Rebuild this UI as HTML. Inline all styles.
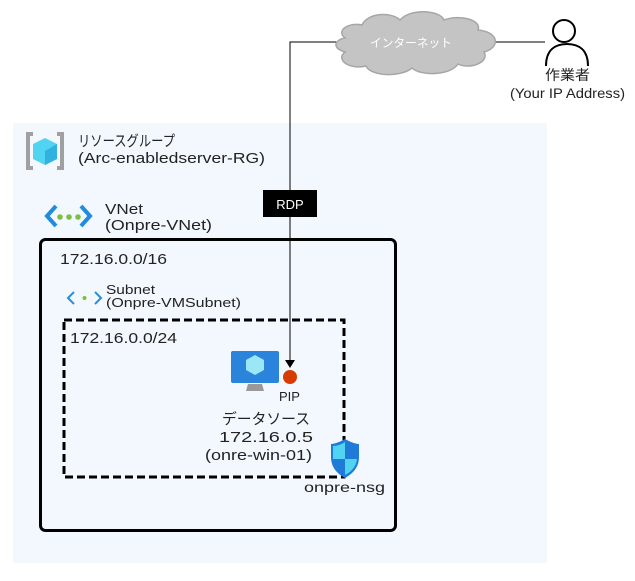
<!DOCTYPE html>
<html><head><meta charset="utf-8"><style>
body{margin:0;background:#fff}
svg{display:block}
text{font-family:"Liberation Sans","Noto Sans CJK JP",sans-serif;fill:#222}
</style></head><body>
<svg width="635" height="581" viewBox="0 0 635 581" xmlns="http://www.w3.org/2000/svg">
<rect x="13" y="123" width="534" height="440" fill="#f3f8fe"/>
<polyline points="342,42 290,42 290,360" fill="none" stroke="#000" stroke-width="1"/>
<polygon points="285,360 295,360 290,368" fill="#000"/>
<line x1="495" y1="42" x2="545" y2="42" stroke="#000" stroke-width="1"/>
<path d="M345,38 C335,30 350,22 362,25 C368,12 392,12 400,20 C410,8 440,10 444,20 C460,14 482,20 478,30 C500,32 500,48 484,52 C490,62 470,70 458,64 C450,76 420,76 412,68 C400,78 370,76 366,66 C350,70 335,60 345,52 C332,48 334,40 345,38 Z" fill="#c4c4c4" stroke="#a6a6a6" stroke-width="1.5"/>
<text x="370" y="47" font-size="12" textLength="82" lengthAdjust="spacingAndGlyphs" style="fill:#fff">インターネット</text>
<circle cx="564" cy="31" r="11" fill="#fff" stroke="#000" stroke-width="2"/>
<path d="M546,66 C546,50 555,44 567,44 C579,44 588,50 588,66" fill="none" stroke="#000" stroke-width="2"/>
<text x="545" y="80" font-size="14" textLength="45" lengthAdjust="spacingAndGlyphs">作業者</text>
<text x="510" y="98" font-size="14" textLength="115" lengthAdjust="spacingAndGlyphs">(Your IP Address)</text>
<rect x="263" y="190" width="54" height="27" fill="#000"/>
<text x="290" y="209" font-size="13" text-anchor="middle" style="fill:#fff">RDP</text>
<path d="M33,134 L28,134 L28,168 L33,168" fill="none" stroke="#a0a0a0" stroke-width="4"/>
<path d="M57,134 L62,134 L62,168 L57,168" fill="none" stroke="#a0a0a0" stroke-width="4"/>
<polygon points="45,138 57,144 57,159 45,165 33,159 33,144" fill="#50d4f2"/>
<polygon points="45,151 57,144 57,159 45,165" fill="#32b0e0"/>
<text x="78" y="146" font-size="15" textLength="97" lengthAdjust="spacingAndGlyphs">リソースグループ</text>
<text x="78" y="163" font-size="15" textLength="187" lengthAdjust="spacingAndGlyphs">(Arc-enabledserver-RG)</text>
<path d="M56,206 L47,216 L56,226" fill="none" stroke="#1f8ce0" stroke-width="4"/>
<path d="M81,206 L90,216 L81,226" fill="none" stroke="#1f8ce0" stroke-width="4"/>
<circle cx="60" cy="217" r="2.8" fill="#7bc043"/><circle cx="69" cy="217" r="2.8" fill="#7bc043"/><circle cx="78" cy="217" r="2.8" fill="#7bc043"/>
<text x="105" y="214" font-size="15" textLength="38" lengthAdjust="spacingAndGlyphs">VNet</text>
<text x="105" y="230" font-size="15" textLength="107" lengthAdjust="spacingAndGlyphs">(Onpre-VNet)</text>
<rect x="40.5" y="239.5" width="355" height="291" rx="5" fill="none" stroke="#000" stroke-width="3"/>
<text x="60" y="264" font-size="15" textLength="107" lengthAdjust="spacingAndGlyphs">172.16.0.0/16</text>
<path d="M74,292 L68,298 L74,304" fill="none" stroke="#2a8fd8" stroke-width="2"/>
<path d="M95,292 L101,298 L95,304" fill="none" stroke="#2a8fd8" stroke-width="2"/>
<circle cx="84.5" cy="298" r="2" fill="#7bc043"/>
<text x="106" y="294" font-size="13" textLength="49" lengthAdjust="spacingAndGlyphs">Subnet</text>
<text x="106" y="307" font-size="13" textLength="135" lengthAdjust="spacingAndGlyphs">(Onpre-VMSubnet)</text>
<rect x="64" y="320" width="280" height="157" fill="none" stroke="#000" stroke-width="3" stroke-dasharray="8,4"/>
<text x="70" y="343" font-size="15" textLength="107" lengthAdjust="spacingAndGlyphs">172.16.0.0/24</text>
<rect x="231" y="351" width="48" height="32" rx="2" fill="#2b84db"/>
<polygon points="255,355 264,360 264,370 255,375 246,370 246,360" fill="#9be7f7"/>
<polygon points="248,384 262,384 264,391 246,391" fill="#999"/>
<circle cx="290" cy="377" r="7" fill="#d83b01"/>
<text x="279" y="401" font-size="13" textLength="21" lengthAdjust="spacingAndGlyphs">PIP</text>
<text x="222" y="424" font-size="15" textLength="88" lengthAdjust="spacingAndGlyphs">データソース</text>
<text x="219" y="442" font-size="15" textLength="94" lengthAdjust="spacingAndGlyphs">172.16.0.5</text>
<text x="205" y="460" font-size="15" textLength="107" lengthAdjust="spacingAndGlyphs">(onre-win-01)</text>
<path d="M345,439 C338,443 333,444 331,444 L331,457 C331,468 338,474 345,478 C352,474 359,468 359,457 L359,444 C357,444 352,443 345,439 Z" fill="#1f7ad8"/>
<path d="M345,442 L345,459 L333,459 C333,452 333,447 333,446 C338,446 342,444 345,442 Z" fill="#50d4f2"/>
<path d="M345,459 L357,459 C356,467 351,472 345,475 Z" fill="#50d4f2"/>
<text x="304" y="492" font-size="14" textLength="81" lengthAdjust="spacingAndGlyphs">onpre-nsg</text>
</svg>
</body></html>
